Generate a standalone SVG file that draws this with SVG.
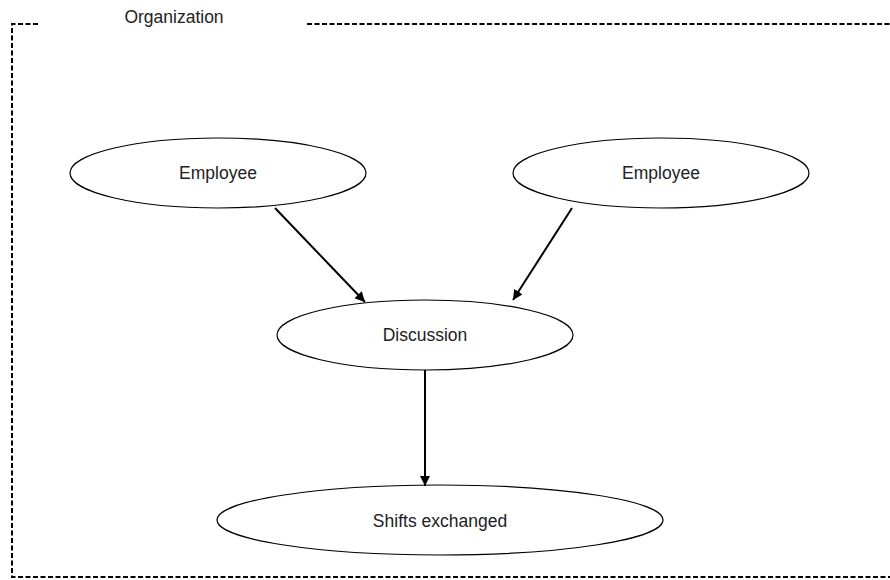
<svg xmlns="http://www.w3.org/2000/svg" width="890" height="580" viewBox="0 0 890 580">
<defs>
<marker id="arr" viewBox="0 0 10 10" refX="10" refY="5" markerWidth="5" markerHeight="5" markerUnits="strokeWidth" orient="auto">
<path d="M0,0 L10,5 L0,10 z" fill="#000"/>
</marker>
<style>
.node ellipse{fill:#fff;stroke:#000;stroke-width:1.2}
.node text,.lbl{font-family:"Liberation Sans",Arial,sans-serif;font-size:17.5px;fill:#222;text-anchor:middle;dominant-baseline:central}
.border{fill:none;stroke:#000;stroke-width:2;stroke-dasharray:5 2.5}
.conn line{stroke:#000;stroke-width:2;marker-end:url(#arr)}
</style>
</defs>
<rect width="890" height="580" fill="#fff"/>
<g id="organization">
<polyline class="border" points="38,24 12,24 12,577 890,577"/>
<line class="border" x1="307" y1="24" x2="890" y2="24"/>
<text class="lbl" x="174" y="17">Organization</text>
</g>
<g id="employee1" class="node">
<ellipse cx="218" cy="173" rx="148" ry="35"/>
<text x="218" y="173">Employee</text>
</g>
<g id="employee2" class="node">
<ellipse cx="661" cy="173" rx="148" ry="35"/>
<text x="661" y="173">Employee</text>
</g>
<g id="discussion" class="node">
<ellipse cx="425" cy="335" rx="148" ry="35"/>
<text x="425" y="335">Discussion</text>
</g>
<g id="shifts" class="node">
<ellipse cx="440" cy="520" rx="223" ry="35"/>
<text x="440" y="521">Shifts exchanged</text>
</g>
<g id="connectors" class="conn">
<line x1="275" y1="208" x2="365" y2="302"/>
<line x1="572" y1="208" x2="513" y2="300"/>
<line x1="425" y1="370" x2="425" y2="486"/>
</g>
</svg>
